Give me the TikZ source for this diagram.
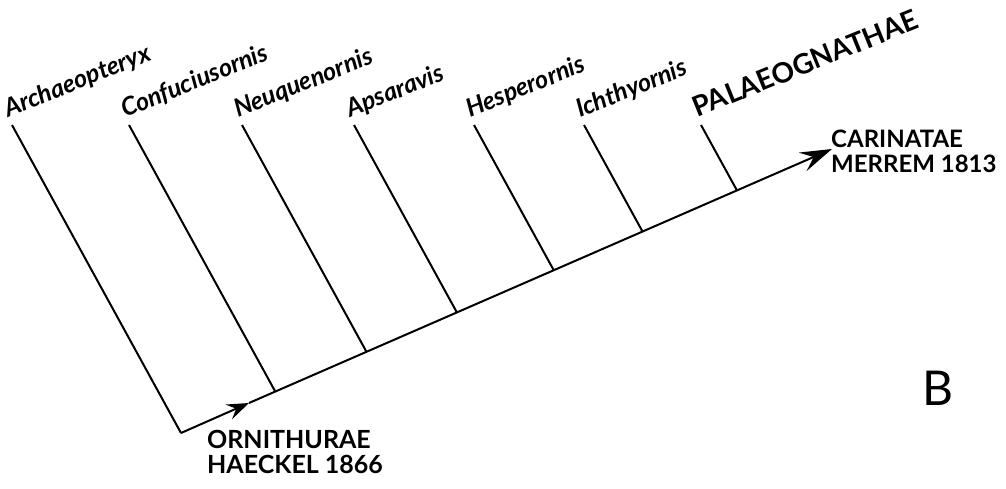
\documentclass[tikz,border=0pt]{standalone}
\usepackage{fontspec}
\setmainfont{Lato}
\usetikzlibrary{
    arrows.meta,
    calc
}
\tikzset{
    branch/.style={line width=2pt},
    taxon/.style={font=\fontsize{25}{25}\selectfont\bfseries\itshape,
        rotate=22, anchor=base west, inner sep=0pt},
    clade/.style={font=\fontsize{25}{25}\selectfont\bfseries,
        align=left, anchor=north west, inner sep=0pt},
    smalltip/.style={-{Stealth[length=22pt,width=16pt,inset=8pt]}},
    bigtip/.style={-{Stealth[length=32pt,width=20pt,inset=12pt]}}
}

\begin{document}
\begin{tikzpicture}[x=1pt,y=-1pt]
    \useasboundingbox (0,0) rectangle (1006,489);

    % spine
    \coordinate (root) at (181,433);
    \coordinate (mid) at (249,403);
    \coordinate (tip) at (832,149);
    \draw[branch,smalltip] (root) -- (mid);
    \draw[branch,bigtip] (mid) -- (tip);

    % leaves
    \foreach \x/\name [count=\i] in {12/Archaeopteryx, 129/Confuciusornis,
        242/Neuquenornis, 354/Apsaravis, 474/Hesperornis, 584/Ichthyornis,
        701/{\upshape\fontsize{28}{28}\selectfont PALAEOGNATHAE}} {
        \coordinate (t\i) at (\x,125);
        \coordinate (u\i) at ($(t\i)+(169,308)$);
        \coordinate (j\i) at (intersection of root--tip and t\i--u\i);
        \draw[branch] (t\i) -- (j\i);
        \node[taxon] (n\i) at ($(t\i)+(-4,-7)$) {\name};
    }

    % clade names
    \node[clade] (orni) at (207,430) {ORNITHURAE\\HAECKEL 1866};
    \node[clade, font=\fontsize{24}{25}\selectfont\bfseries] (cari) at (831,130) {CARINATAE\\MERREM 1813};
    \node[font=\fontsize{48}{48}\selectfont, inner sep=0pt] (panel) at (938,388) {B};
\end{tikzpicture}
\end{document}
